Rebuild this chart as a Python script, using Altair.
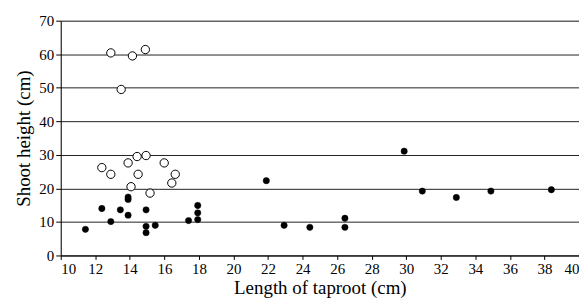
import altair as alt
import pandas as pd

open_x = [12.9, 14.15, 14.9, 13.5, 12.38, 12.9, 13.9, 14.42, 14.94, 14.48, 15.99, 16.63, 16.43, 14.07, 15.17]
open_y = [60.4, 59.5, 61.4, 49.5, 26.2, 24.2, 27.6, 29.5, 29.8, 24.2, 27.6, 24.2, 21.6, 20.5, 18.6]

filled_x = [11.43, 12.38, 12.9, 13.45, 13.9, 13.9, 13.9, 14.94, 14.94, 14.94, 15.47, 17.4, 17.93, 17.93, 17.93,
            21.9, 22.93, 24.42, 26.45, 26.45, 29.88, 30.93, 32.9, 34.9, 38.4]
filled_y = [7.8, 14.0, 10.1, 13.6, 17.4, 16.7, 12.0, 13.6, 8.7, 6.8, 9.0, 10.4, 14.9, 12.7, 10.7,
            22.3, 9.0, 8.4, 11.1, 8.4, 31.1, 19.2, 17.3, 19.2, 19.6]

x_ticks = list(range(10, 41, 2))
y_ticks = list(range(0, 71, 10))

df_open = pd.DataFrame({"x": open_x, "y": open_y})
df_filled = pd.DataFrame({"x": filled_x, "y": filled_y})

FONT = "Liberation Serif"

xenc = alt.X("x:Q", scale=alt.Scale(domain=[10, 40], nice=False, zero=False),
             axis=alt.Axis(values=x_ticks, title="Length of taproot (cm)", grid=False,
                           labelFont=FONT, titleFont=FONT,
                           tickSize=4, labelPadding=2, titlePadding=2))
yenc = alt.Y("y:Q", scale=alt.Scale(domain=[0, 70], nice=False),
             axis=alt.Axis(values=y_ticks, title="Shoot height (cm)", grid=True,
                           labelFont=FONT, titleFont=FONT,
                           tickSize=5, labelPadding=2, titlePadding=5))

open_layer = alt.Chart(df_open).mark_point(shape="circle", filled=True, fill="white",
                                            stroke="black", strokeWidth=1, size=70, opacity=1).encode(x=xenc, y=yenc)
filled_layer = alt.Chart(df_filled).mark_point(shape="circle", filled=True, fill="black",
                                                stroke="black", strokeWidth=0.5, size=40, opacity=1).encode(x=xenc, y=yenc)

chart = alt.layer(open_layer, filled_layer).properties(
    width=521, height=236,
    autosize=alt.AutoSizeParams(type="none"),
    padding={"left": 53, "top": 12, "right": 0, "bottom": 44},
).configure_view(stroke=None).configure(background="white", font=FONT).configure_axis(
    labelFont=FONT, labelFontSize=15, titleFont=FONT, titleFontSize=19,
    titleFontWeight="normal", domainColor="#000", tickColor="#000",
    labelColor="#000", titleColor="#000", gridColor="#222", gridWidth=1,
)

chart.save("out.html", embed_options={"renderer": "svg", "actions": False})
